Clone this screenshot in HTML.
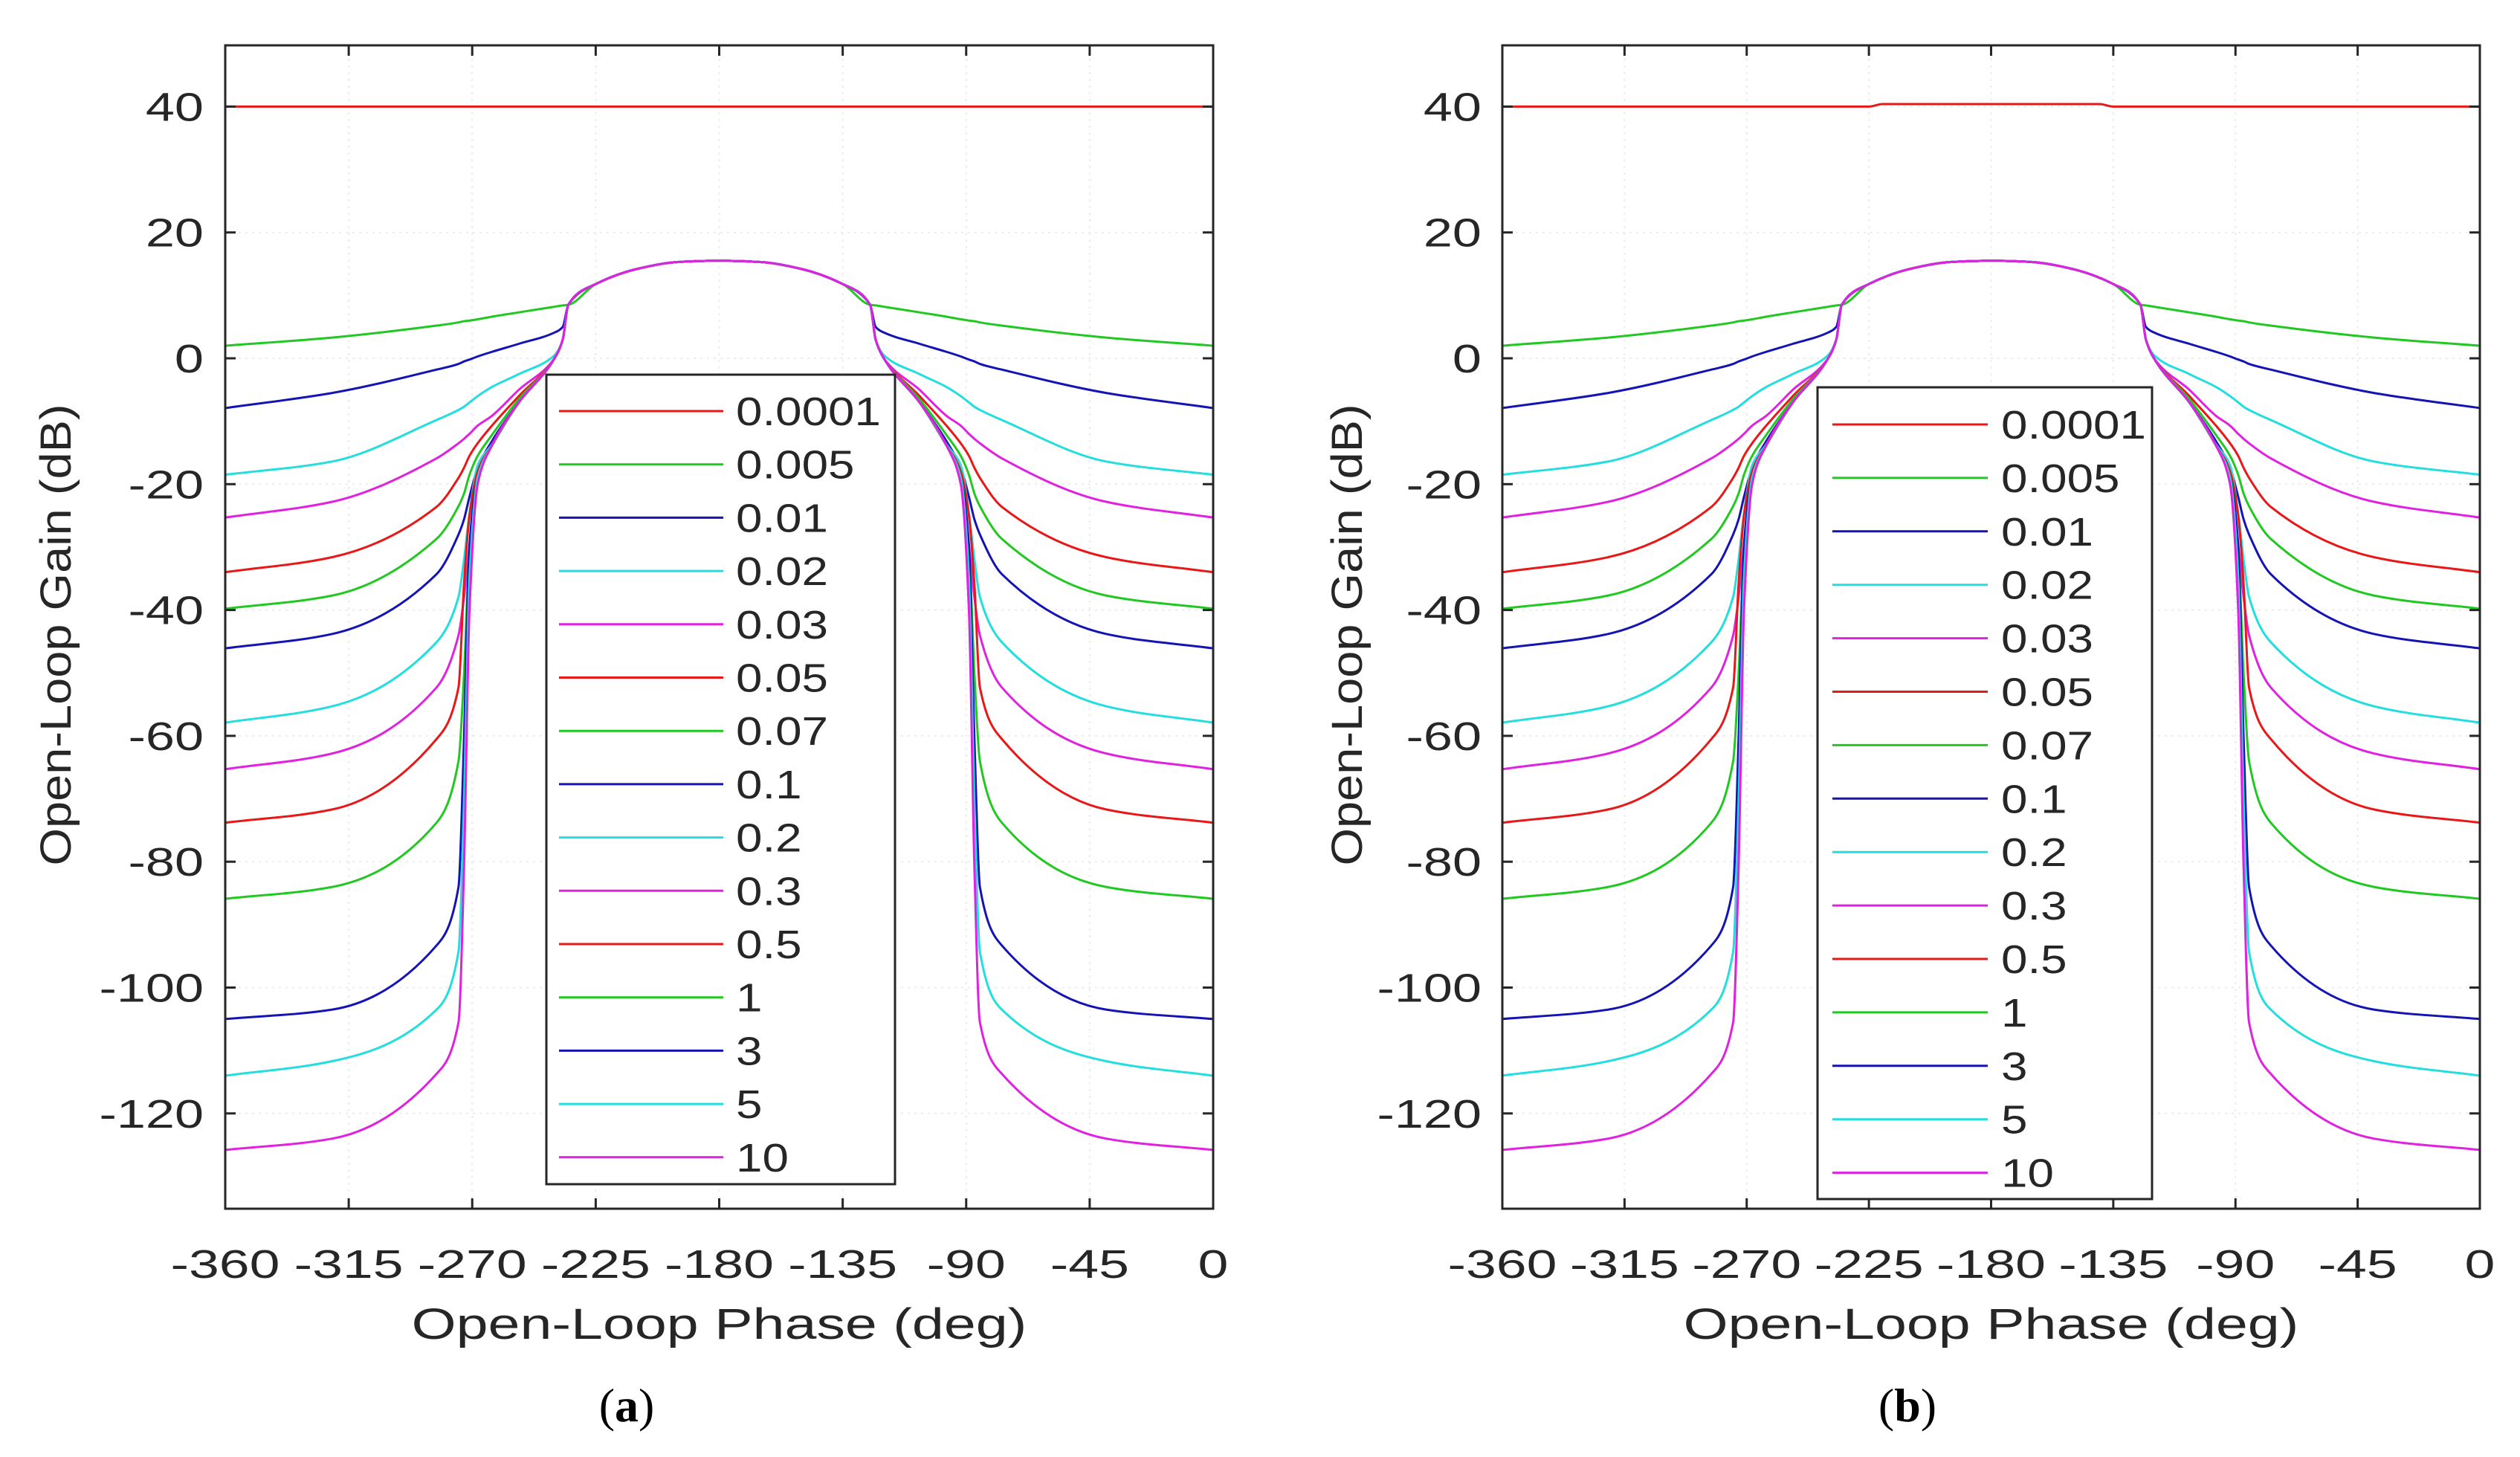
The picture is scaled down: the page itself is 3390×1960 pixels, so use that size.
<!DOCTYPE html>
<html><head><meta charset="utf-8"><style>
html,body{margin:0;padding:0;background:#fff;}
svg{display:block;}
text{font-family:"Liberation Sans",Arial,sans-serif;fill:#262626;}
</style></head><body>
<svg id="fig" width="3390" height="1960" viewBox="0 0 3390 1960" xmlns="http://www.w3.org/2000/svg">
<rect width="3390" height="1960" fill="#fff"/>
</svg>
<script>
// ---- data ----
const seriesLabels = ["0.0001","0.005","0.01","0.02","0.03","0.05","0.07","0.1","0.2","0.3","0.5","1","3","5","10"];
const seriesColors = ["#e81818","#22c822","#1414b4","#22dede","#e022e0","#e81818","#22c822","#1414b4","#22dede","#e022e0","#e81818","#22c822","#1414b4","#22dede","#e022e0"];
const phaseLeft = [-360,-321,-283,-275,-273,-271,-268,-263,-253,-240,-237];
const gain0005 = [2,3.3,5.2,5.7,5.9,6.0,6.2,6.6,7.3,8.2,8.4];
const gain001 = [-7.9,-5.5,-1.8,-0.9,-0.5,-0.2,0.3,1.0,2.3,4.1,5];
const gain002 = [-18.5,-16.4,-9.8,-8.2,-7.7,-7,-6,-4.6,-2.5,0.5,3];
const gain003 = [-25.3,-22.8,-15.9,-13.5,-12.8,-12,-10.7,-9.2,-5,0,3];
const gain005 = [-34,-31.6,-23.6,-19,-17.4,-15.5,-13.5,-10.8,-6,0,3];
const gain007 = [-39.8,-37.7,-28.7,-23.5,-21.5,-18.5,-15.5,-12.3,-6.5,0,3];
const gain01 = [-46.1,-43.8,-34.3,-28,-25.6,-22,-17.4,-13.3,-7,0,3];
const gain02 = [-57.9,-55.3,-45.1,-37.9,-32,-24.6,-17,-13.8,-7,0,3];
const gain03 = [-65.3,-62.8,-52.3,-44,-38,-29.7,-18,-14,-7,0,3];
const gain05 = [-73.8,-71.7,-60.5,-52.3,-35.9,-25,-18,-14,-7,0,3];
const gain1 = [-85.9,-84,-73.8,-64,-50.2,-30,-19,-14,-7,0,3];
const gain3 = [-105,-103.5,-93.3,-84,-60.5,-29.7,-19,-14,-7,0,3];
const gain5 = [-114,-111.7,-103.5,-94.3,-70.7,-34.9,-19,-14,-7,0,3];
const gain10 = [-125.8,-124,-113.7,-105.5,-81,-40,-20,-14,-7,0,3];
const domePhase = [-235,-225,-209,-195,-180];
const domeGain = [8.5,11.8,14.3,15.3,15.5];
const flatPhase = [-360,-225,-220,-140,-135,0];
const flatGainA = [40,40,40,40,40,40];
const flatGainB = [40,40,40.4,40.4,40,40];
const xTicks = [-360,-315,-270,-225,-180,-135,-90,-45,0];
const yTicks = [40,20,0,-20,-40,-60,-80,-100,-120];
const leftGains = [null,gain0005,gain001,gain002,gain003,gain005,gain007,gain01,gain02,gain03,gain05,gain1,gain3,gain5,gain10];

const NS="http://www.w3.org/2000/svg";
const svg=document.getElementById('fig');
function el(tag,attrs,parent){const e=document.createElementNS(NS,tag);for(const k in attrs)e.setAttribute(k,attrs[k]);(parent||svg).appendChild(e);return e;}
function stretchText(t,f){const w=t.getComputedTextLength();t.setAttribute('textLength',(w*f).toFixed(1));t.setAttribute('lengthAdjust','spacingAndGlyphs');}

// monotone cubic (x-monotone) path
function monotonePath(P){
  const n=P.length;if(n<3)return P.map((q,j)=>(j?'L':'M')+q[0].toFixed(1)+','+q[1].toFixed(1)).join(' ');
  const dx=[],s=[];for(let i=0;i<n-1;i++){dx[i]=P[i+1][0]-P[i][0];s[i]=(P[i+1][1]-P[i][1])/dx[i];}
  const m=[s[0]];for(let i=1;i<n-1;i++){if(s[i-1]*s[i]<=0)m[i]=0;else{const w1=2*dx[i]+dx[i-1],w2=dx[i]+2*dx[i-1];m[i]=(w1+w2)/(w1/s[i-1]+w2/s[i]);}}
  m[n-1]=s[n-2];
  let d='M'+P[0][0].toFixed(1)+','+P[0][1].toFixed(1);
  for(let i=0;i<n-1;i++){const h=dx[i]/3;
    d+=' C'+(P[i][0]+h).toFixed(1)+','+(P[i][1]+m[i]*h).toFixed(1)+' '+(P[i+1][0]-h).toFixed(1)+','+(P[i+1][1]-m[i+1]*h).toFixed(1)+' '+P[i+1][0].toFixed(1)+','+P[i+1][1].toFixed(1);}
  return d;
}

function panel(cfg){
  const g=el('g',{});
  
  
  const L=cfg.left,R=cfg.right,T=61,B=1626;
  const xs=v=>L+(v+360)/360*(R-L);
  const ys=v=>482-v*8.465;
  xTicks.forEach(v=>{const l=el('line',{x1:xs(v),x2:xs(v),y1:T,y2:B,stroke:'#ececec','stroke-width':2,'stroke-dasharray':'3,6'},g);});
  yTicks.forEach(v=>{const l=el('line',{x1:L,x2:R,y1:ys(v),y2:ys(v),stroke:'#ececec','stroke-width':2,'stroke-dasharray':'3,6'},g);});
  const clip=el('clipPath',{id:'clip'+cfg.name},g);el('rect',{x:L,y:T,width:R-L,height:B-T},clip);
  const sg=el('g',{'clip-path':'url(#clip'+cfg.name+')'},g);
  seriesLabels.forEach((lab,i)=>{
    let pts=[];
    if(i===0){flatPhase.forEach((p,j)=>pts.push([p,cfg.flat[j]]));}
    else{
      const lg=leftGains[i];
      const left=phaseLeft.map((p,j)=>[p,lg[j]]).concat(domePhase.map((p,j)=>[p,domeGain[j]]));
      const right=left.slice(0,-1).reverse().map(([p,v])=>[-360-p,v]);
      pts=left.concat(right);
    }
    const d=monotonePath(pts.map(q=>[xs(q[0]),ys(q[1])]));
    const pth=el('path',{d:d,fill:'none',stroke:seriesColors[i],'stroke-width':3,'stroke-linejoin':'round'},sg);
    
    
  });
  const box=el('rect',{x:L,y:T,width:R-L,height:B-T,fill:'none',stroke:'#262626','stroke-width':3},g);
  
  xTicks.forEach(v=>{
    el('line',{x1:xs(v),x2:xs(v),y1:B,y2:B-14,stroke:'#262626','stroke-width':3},g);
    el('line',{x1:xs(v),x2:xs(v),y1:T,y2:T+14,stroke:'#262626','stroke-width':3},g);
    const t=el('text',{x:xs(v),y:1719,'text-anchor':'middle','font-size':54},g);t.textContent=v;
    
    stretchText(t,1.36);
  });
  yTicks.forEach(v=>{
    el('line',{x1:L,x2:L+14,y1:ys(v),y2:ys(v),stroke:'#262626','stroke-width':3},g);
    el('line',{x1:R,x2:R-14,y1:ys(v),y2:ys(v),stroke:'#262626','stroke-width':3},g);
    const t=el('text',{x:cfg.ylabX,y:ys(v)+19,'text-anchor':'end','font-size':54},g);t.textContent=v;
    
    stretchText(t,1.3);
  });
  const xl=el('text',{x:(L+R)/2,y:1801,'text-anchor':'middle','font-size':58},g);xl.textContent='Open-Loop Phase (deg)';
  
  stretchText(xl,1.33);
  const yl=el('text',{x:0,y:0,'text-anchor':'middle','font-size':58,transform:'translate('+(cfg.ytitleX)+',854) rotate(-90)'},g);yl.textContent='Open-Loop Gain (dB)';
  
  stretchText(yl,1.12);
  const lgd=el('g',{},g);
  
  el('rect',{x:cfg.lg.x,y:cfg.lg.y,width:cfg.lg.w,height:cfg.lg.h,fill:'#fff',stroke:'#262626','stroke-width':3},lgd);
  seriesLabels.forEach((lab,i)=>{
    const y=cfg.lg.y0+i*cfg.lg.dy;
    const ln=el('line',{x1:cfg.lg.l1,x2:cfg.lg.l2,y1:y,y2:y,stroke:seriesColors[i],'stroke-width':3},lgd);
    
    const t=el('text',{x:cfg.lg.tx,y:y+19,'font-size':54},lgd);t.textContent=lab;
    
    stretchText(t,1.18);
  });
  const cap=el('text',{x:cfg.capX,y:1912,'text-anchor':'middle','font-size':64,style:'font-family:"Liberation Serif",serif;fill:#000'},g);
  
  cap.appendChild(document.createTextNode('('));
  const b=el('tspan',{'font-weight':'bold'},cap);b.textContent=cfg.cap;
  cap.appendChild(document.createTextNode(')'));
}
panel({name:'panel-a',left:303,right:1632,flat:flatGainA,ylabX:274,ytitleX:95,capX:843,cap:'a',
  lg:{x:735,y:504,w:469,h:1089,y0:553,dy:71.7,l1:752,l2:973,tx:990}});
panel({name:'panel-b',left:2021,right:3336,flat:flatGainB,ylabX:1993,ytitleX:1832,capX:2566,cap:'b',
  lg:{x:2445,y:521,w:450,h:1092,y0:571,dy:71.9,l1:2465,l2:2674,tx:2692}});
</script>
</body></html>
